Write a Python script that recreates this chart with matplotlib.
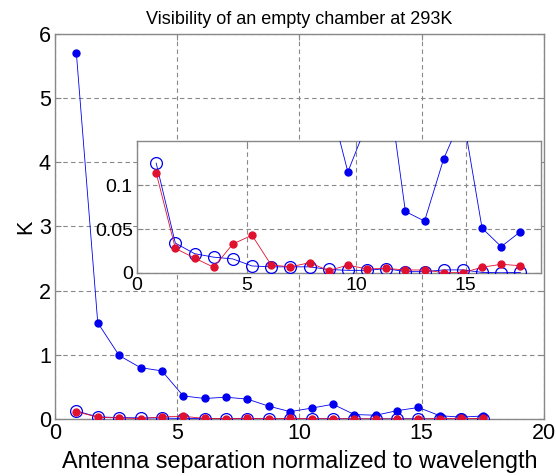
import numpy as np
import matplotlib
matplotlib.use("Agg")
import matplotlib.pyplot as plt

plt.rcParams['font.family'] = ['Liberation Sans', 'DejaVu Sans']

# Data
k = np.arange(1, 21)
x = k * 0.875
vis_total = [5.7, 1.50, 0.99, 0.80, 0.75, 0.36, 0.32, 0.34, 0.31, 0.20,
             0.115, 0.17, 0.23, 0.070, 0.059, 0.13, 0.18, 0.051, 0.030, 0.047]
vis_open = [0.125, 0.034, 0.022, 0.018, 0.016, 0.008, 0.007, 0.007, 0.007, 0.004,
            0.003, 0.003, 0.005, 0.0015, 0.0015, 0.0035, 0.0035, 0.0007, 0.0002, 0.0007]
vis_red = [0.114, 0.028, 0.017, 0.0065, 0.033, 0.043, 0.009, 0.007, 0.0117, 0.0027,
           0.009, 0.0045, 0.0053, 0.0034, 0.0034, 0.0004, 0.0004, 0.0065, 0.0099, 0.0083]

main_xticks = [0, 5, 10, 15, 20]
main_yticks = [0, 1, 2, 3, 4, 5, 6]
inset_xticks = [0, 5, 10, 15]
inset_yticks = [0, 0.05, 0.1]
inset_yticklabels = ['0', '0.05', '0.1']

BLUE = '#0000ee'
RED = '#e0102f'
GRID = dict(color='#888888', linestyle=(0, (4, 3)), linewidth=0.8)

fig = plt.figure(figsize=(5.56, 4.76), dpi=100)
ax = fig.add_axes([0.0989, 0.1197, 0.879, 0.809])


def draw(a, dot_ms, ring_ms):
    a.plot(x, vis_total, '-', color=BLUE, lw=0.6, marker='o', ms=dot_ms,
           mfc=BLUE, mec=BLUE, zorder=3)
    a.plot(x, vis_open, '-', color=BLUE, lw=0.6, marker='o', ms=ring_ms,
           mfc='none', mec=BLUE, mew=0.9, zorder=4)
    a.plot(x, vis_red, '-', color=RED, lw=0.6, marker='o', ms=dot_ms,
           mfc=RED, mec=RED, zorder=5)


def style(a):
    for s in a.spines.values():
        s.set_color('#888888')
        s.set_linewidth(1.0)
    a.tick_params(direction='in', length=4, color='#888888', top=True, right=True)
    a.grid(True, **GRID)
    a.set_axisbelow(True)


draw(ax, 5, 8.5)
ax.set_xlim(0, 20)
ax.set_ylim(0, 6)
ax.set_xticks(main_xticks)
ax.set_yticks(main_yticks)
style(ax)
ax.tick_params(labelsize=15.5, pad=3)
ax.set_xlabel('Antenna separation normalized to wavelength', fontsize=16.8, labelpad=4)
ax.set_ylabel('K', fontsize=15.5, labelpad=2)
ax.set_title('Visibility of an empty chamber at 293K', fontsize=13, pad=7)

ins = fig.add_axes([0.2464, 0.4265, 0.727, 0.277])
ins.set_facecolor('white')
draw(ins, 5, 8.5)
ins.set_xlim(0, 18.45)
ins.set_ylim(0, 0.15)
ins.set_xticks(inset_xticks)
ins.set_yticks(inset_yticks)
ins.set_yticklabels(inset_yticklabels)
style(ins)
ins.tick_params(labelsize=14, pad=3)

fig.savefig('out.png', dpi=100)
